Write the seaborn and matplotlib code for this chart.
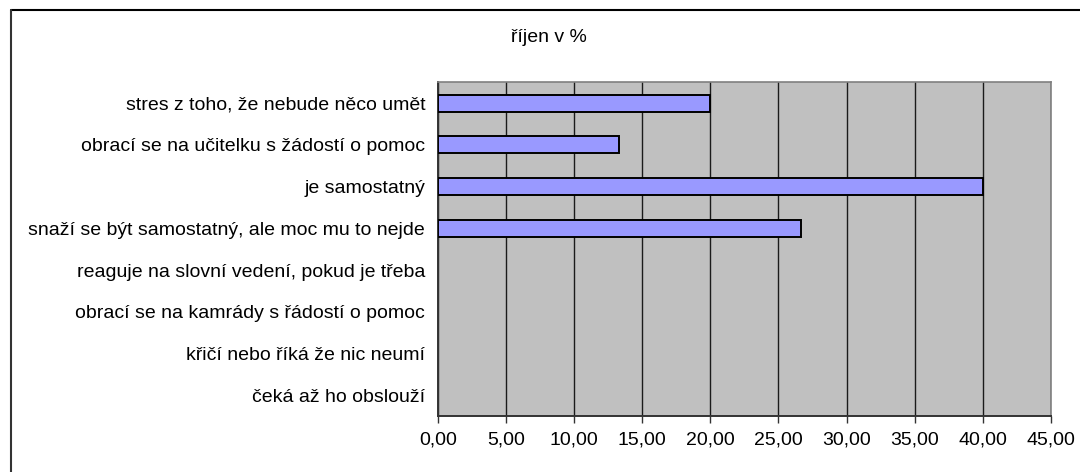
import numpy as np
import pandas as pd
import matplotlib
matplotlib.use("Agg")
import matplotlib.pyplot as plt
import seaborn as sns
from matplotlib.ticker import FuncFormatter, MultipleLocator
from matplotlib.lines import Line2D

categories = [
    "stres z toho, že nebude něco umět",
    "obrací se na učitelku s žádostí o pomoc",
    "je samostatný",
    "snaží se být samostatný, ale moc mu to nejde",
    "reaguje na slovní vedení, pokud je třeba",
    "obrací se na kamrády s řádostí o pomoc",
    "křičí nebo říká že nic neumí",
    "čeká až ho obslouží",
]
values = [20.00, 13.33, 40.00, 26.67, np.nan, np.nan, np.nan, np.nan]
title = "říjen v %"
x_max = 45
x_step = 5

sns.set_theme(style="white")
plt.rcParams["font.family"] = ["Liberation Sans", "DejaVu Sans"]

df = pd.DataFrame({"kategorie": categories, "hodnota": values})

fig = plt.figure(figsize=(10.8, 4.72), dpi=100)
ax = fig.add_axes([437.7 / 1080, 1 - 416 / 472, (1051 - 437.7) / 1080, (416 - 82.3) / 472])
ax.set_facecolor("#C0C0C0")

sns.barplot(data=df, y="kategorie", x="hodnota", order=categories, orient="h",
            color="#9999FF", saturation=1, width=0.41, edgecolor="black",
            linewidth=1.4, ax=ax, zorder=3)

ax.set_xlim(0, x_max)
ax.set_ylim(len(categories) - 0.5, -0.5)
ax.xaxis.set_major_locator(MultipleLocator(x_step))
ax.xaxis.set_major_formatter(FuncFormatter(lambda v, p: f"{v:.2f}".replace(".", ",")))
ax.grid(axis="x", color="#1a1a1a", linewidth=1.0, zorder=1)
ax.grid(axis="y", visible=False)
ax.set_axisbelow(True)
ax.set_xlabel("")
ax.set_ylabel("")

# y ticks at category boundaries, labels centered
ax.set_yticks(np.arange(len(categories)))
ax.set_yticklabels(categories)
ax.tick_params(axis="y", which="major", length=0, pad=9, labelsize=14, colors="black")
ax.set_yticks(np.arange(len(categories) + 1) - 0.5, minor=True)
ax.tick_params(axis="y", which="minor", length=5, width=1, color="#333333", direction="out")
ax.tick_params(axis="x", which="major", length=5, width=1, color="#333333", direction="out",
               pad=6, labelsize=14, labelcolor="black", bottom=True)

for s in ["left", "bottom"]:
    ax.spines[s].set_color("#333333")
    ax.spines[s].set_linewidth(1.4)
for s in ["top", "right"]:
    ax.spines[s].set_color("#808080")
    ax.spines[s].set_linewidth(1.2)

fig.text(549 / 1080, 1 - 37 / 472, title, ha="center", va="center", fontsize=14, color="black")

# outer chart border (top and left visible)
fig.add_artist(Line2D([11 / 1080, 1.0], [1 - 10 / 472, 1 - 10 / 472], color="black", linewidth=1.5, transform=fig.transFigure))
fig.add_artist(Line2D([11 / 1080, 11 / 1080], [0.0, 1 - 10 / 472], color="#333333", linewidth=1.5, transform=fig.transFigure))

fig.savefig("out.png", dpi=100)
